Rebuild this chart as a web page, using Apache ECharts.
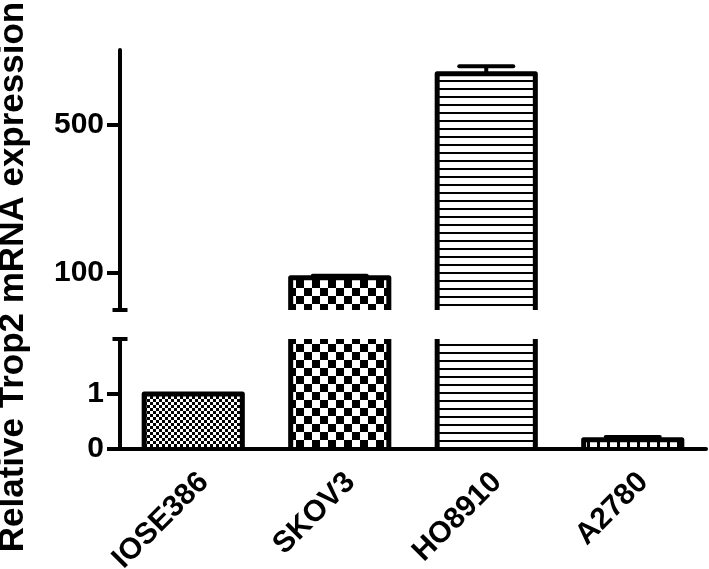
<!DOCTYPE html>
<html>
<head>
<meta charset="utf-8">
<script src="https://cdn.jsdelivr.net/npm/echarts@6/dist/echarts.min.js"></script>
<style>
html, body { margin: 0; padding: 0; background: #fff; }
#main { width: 709px; height: 569px; }
</style>
</head>
<body>
<div id="main"></div>
<script>
// data
var categories = ['IOSE386', 'SKOV3', 'HO8910', 'A2780'];
var expression = [1.0, 87, 636, 0.17];
var errors = [0, 5, 20, 0.05];
var lowerTicks = [0, 1];
var upperTicks = [100, 500];
var lowerMax = 2;
var upperMax = 700;

var FONT = '"Liberation Sans", Arial, sans-serif';

// small canvas fills for the bars
function makePattern(w, h, draw) {
    var c = document.createElement('canvas');
    c.width = w;
    c.height = h;
    var ctx = c.getContext('2d');
    ctx.fillStyle = '#fff';
    ctx.fillRect(0, 0, w, h);
    ctx.fillStyle = '#000';
    draw(ctx);
    return { image: c, repeat: 'repeat' };
}
var fills = [
    makePattern(6, 6, function (ctx) {            // fine check
        ctx.fillRect(0, 0, 3, 3);
        ctx.fillRect(3, 3, 3, 3);
    }),
    makePattern(16, 16, function (ctx) {          // coarse check
        ctx.fillRect(0, 0, 8, 8);
        ctx.fillRect(8, 8, 8, 8);
    }),
    makePattern(8, 8, function (ctx) {            // horizontal lines
        ctx.fillRect(0, 0, 8, 2);
    }),
    makePattern(10, 10, function (ctx) {          // dashes
        ctx.fillRect(7, 0, 3, 10);
    })
];

function isUpper(v) { return v > lowerMax; }
function any(v) { return true; }
function isLower(v) { return v <= lowerMax; }

function pick(keep) {
    var out = [];
    expression.forEach(function (v, i) {
        if (keep(v)) out.push([i, v, errors[i]]);
    });
    return out;
}

// open-bottom bar: pattern fill, outline on left/top/right only
function barItem(params, api) {
    var i = api.value(0), v = api.value(1);
    var base = api.coord([i, 0]);
    var top = api.coord([i, v]);
    var w = api.size([1, 0])[0] * 0.67;
    var x0 = base[0] - w / 2, x1 = base[0] + w / 2;
    return {
        type: 'group',
        children: [
            {
                type: 'rect',
                shape: { x: x0, y: top[1], width: w, height: base[1] - top[1] },
                style: { fill: fills[i] }
            },
            {
                type: 'polyline',
                shape: { points: [[x0, base[1]], [x0, top[1]], [x1, top[1]], [x1, base[1]]] },
                style: { stroke: '#000', fill: null, lineWidth: 5, lineJoin: 'round' }
            }
        ]
    };
}

function errorBarItem(params, api) {
    var x = api.value(0), v = api.value(1), e = api.value(2);
    if (!e) return null;
    var base = api.coord([x, v]);
    var top = api.coord([x, v + e]);
    return {
        type: 'group',
        children: [
            {
                type: 'line',
                shape: { x1: base[0], y1: base[1], x2: top[0], y2: top[1] },
                style: { stroke: '#000', lineWidth: 4 }
            },
            {
                type: 'line',
                shape: { x1: top[0] - 27, y1: top[1], x2: top[0] + 27, y2: top[1] },
                style: { stroke: '#000', lineWidth: 4, lineCap: 'round' }
            }
        ]
    };
}

var tickLabel = {
    color: '#000',
    fontFamily: FONT,
    fontWeight: 'bold',
    fontSize: 30
};

var myChart = echarts.init(document.getElementById('main'));
var option = {
    animation: false,
    grid: [
        { left: 120, right: 3, top: 50, height: 260, outerBoundsMode: 'none', containLabel: false },
        { left: 120, right: 3, top: 339, height: 110, outerBoundsMode: 'none', containLabel: false }
    ],
    xAxis: [
        {
            gridIndex: 0,
            type: 'category',
            data: categories,
            show: false
        },
        {
            gridIndex: 1,
            type: 'category',
            data: categories,
            z: 10,
            axisLine: { lineStyle: { color: '#000', width: 4 } },
            axisTick: {
                alignWithLabel: true,
                length: 13,
                lineStyle: { color: '#000', width: 4 }
            },
            axisLabel: Object.assign({
                rotate: 45,
                margin: 18,
                interval: 0,
                align: 'right',
                verticalAlign: 'top'
            }, tickLabel)
        }
    ],
    yAxis: [
        {
            gridIndex: 0,
            type: 'value',
            min: 0,
            max: upperMax,
            splitLine: { show: false },
            axisLine: {
                show: true,
                symbol: ['rect', 'none'],
                symbolSize: [15, 4],
                lineStyle: { color: '#000', width: 4 }
            },
            axisTick: {
                show: true,
                length: 13,
                customValues: upperTicks,
                lineStyle: { color: '#000', width: 4 }
            },
            axisLabel: Object.assign({ customValues: upperTicks, margin: 16 }, tickLabel)
        },
        {
            gridIndex: 1,
            type: 'value',
            min: 0,
            max: lowerMax,
            interval: 1,
            splitLine: { show: false },
            axisLine: {
                show: true,
                symbol: ['none', 'rect'],
                symbolSize: [15, 4],
                lineStyle: { color: '#000', width: 4 }
            },
            axisTick: {
                show: true,
                length: 13,
                customValues: lowerTicks,
                lineStyle: { color: '#000', width: 4 }
            },
            axisLabel: Object.assign({ customValues: lowerTicks, margin: 16 }, tickLabel)
        }
    ],
    graphic: [
        {
            type: 'text',
            x: 13,
            y: 277,
            rotation: Math.PI / 2,
            style: {
                text: 'Relative Trop2 mRNA expression',
                fill: '#000',
                font: 'bold 35px ' + FONT,
                textAlign: 'center',
                textVerticalAlign: 'middle'
            }
        }
    ],
    series: [
        {
            type: 'custom',
            xAxisIndex: 0,
            yAxisIndex: 0,
            clip: true,
            renderItem: barItem,
            data: pick(isUpper)
        },
        {
            type: 'custom',
            xAxisIndex: 1,
            yAxisIndex: 1,
            clip: true,
            renderItem: barItem,
            data: pick(any)
        },
        {
            type: 'custom',
            xAxisIndex: 0,
            yAxisIndex: 0,
            clip: true,
            z: 5,
            renderItem: errorBarItem,
            data: pick(isUpper)
        },
        {
            type: 'custom',
            xAxisIndex: 1,
            yAxisIndex: 1,
            clip: true,
            z: 5,
            renderItem: errorBarItem,
            data: pick(isLower)
        }
    ]
};
myChart.setOption(option);
</script>
</body>
</html>
